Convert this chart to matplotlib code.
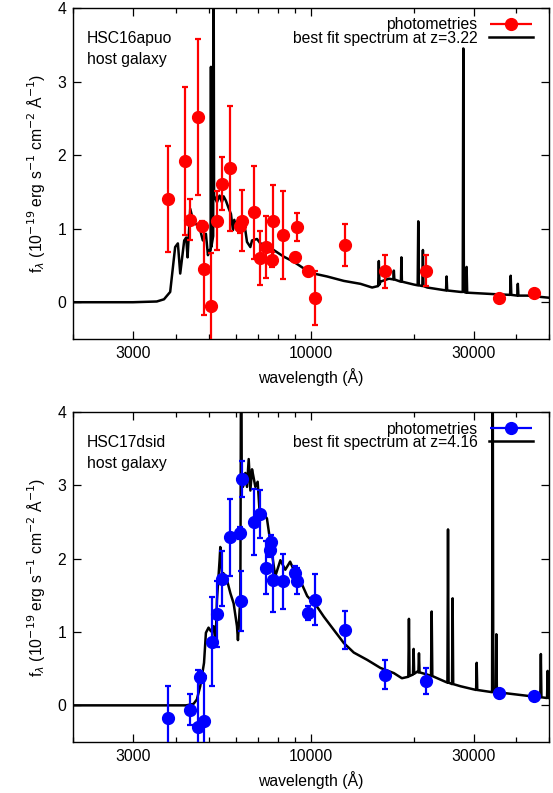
import matplotlib
matplotlib.use('Agg')
import matplotlib.pyplot as plt
from matplotlib.ticker import FixedLocator, NullFormatter, FixedFormatter
from matplotlib.lines import Line2D
from matplotlib.legend_handler import HandlerErrorbar

plt.rcParams['font.family'] = ['Liberation Sans', 'DejaVu Sans']
plt.rcParams['font.size'] = 11.3

# ---- HSC16apuo : photometry ----
phot1_wave = [3797, 4268, 4643, 4417, 4782, 4858, 5092, 5281, 5463, 5778, 6266, 6200,
              6814, 7096, 7390, 7714, 7700, 8274, 8954, 9117, 9778, 10252, 12560,
              16540, 21740, 35740, 45180]
phot1_flux = [1.40, 1.92, 2.52, 1.12, 1.04, 0.45, -0.05, 1.11, 1.61, 1.82, 1.11, 1.04,
              1.22, 0.60, 0.75, 1.10, 0.58, 0.91, 0.62, 1.02, 0.42, 0.06, 0.78,
              0.42, 0.43, 0.06, 0.12]
phot1_err = [0.72, 1.01, 1.06, 0.28, 0.06, 0.62, 0.72, 0.40, 0.36, 0.85, 0.42, 0.10,
             0.63, 0.37, 0.42, 0.50, 0.10, 0.60, 0.05, 0.19, 0.06, 0.37, 0.29,
             0.22, 0.21, 0.02, 0.02]

# ---- HSC16apuo : best fit spectrum (z=3.22) ----
spec1_wave = [2000, 3000, 3524, 3700, 3858, 3990, 4064, 4129, 4242, 4300, 4339, 4418,
              4518, 4622, 4727, 4811, 4912, 4980, 5036, 5070, 5082, 5095, 5160, 5174,
              5190, 5233, 5293, 5388, 5474, 5536, 5624, 5726, 5818, 5898, 5951, 6060,
              6157, 6268, 6412, 6485, 6634, 6709, 6939, 7096, 7424, 7765, 8312, 8892,
              9516, 10182, 11146, 12478, 13970, 15112, 15740, 15810, 15880, 15990,
              16924, 17440, 17500, 17560, 18316, 18360, 18420, 18480, 20050, 20560,
              20640, 20720, 21220, 21300, 21380, 21940, 24900, 25000, 25100, 27500,
              27880, 27990, 28100, 28510, 28620, 28730, 34470, 38400, 38560, 38720,
              40300, 40460, 40620, 43190, 50240]
spec1_flux = [0.0, 0.0, 0.01, 0.04, 0.14, 0.75, 0.80, 0.39, 0.84, 0.88, 0.61, 1.27,
              1.09, 1.05, 0.98, 0.84, 0.93, 0.64, 0.71, 0.70, 3.20, 0.75, 0.90, 5.0,
              1.45, 1.41, 1.36, 1.45, 1.36, 1.44, 1.38, 1.28, 1.20, 0.98, 1.12, 0.98,
              1.12, 1.05, 0.98, 0.82, 0.75, 0.84, 0.86, 0.80, 0.77, 0.71, 0.62, 0.55,
              0.46, 0.39, 0.35, 0.29, 0.25, 0.20, 0.22, 0.56, 0.24, 0.28,
              0.32, 0.31, 0.43, 0.31, 0.28, 0.29, 0.61, 0.28, 0.24, 0.23,
              1.10, 0.23, 0.22, 0.71, 0.22, 0.20, 0.16, 0.35, 0.16, 0.14,
              0.14, 3.45, 0.14, 0.13, 0.48, 0.13, 0.11, 0.10, 0.36, 0.10,
              0.09, 0.25, 0.09, 0.09, 0.06]

# ---- HSC17dsid : photometry ----
phot2_wave = [3797, 4426, 4654, 4728, 4858, 5117, 5293, 5474, 5791, 6238, 6196, 6266,
              6814, 7096, 7390, 7650, 7600, 7714, 8274, 8954, 9117, 9778, 10252,
              12560, 16540, 21740, 35740, 45180]
phot2_flux = [-0.17, -0.06, -0.30, 0.39, -0.22, 0.87, 1.25, 1.73, 2.29, 1.42, 2.35, 3.09,
              2.50, 2.61, 1.88, 2.23, 2.12, 1.71, 1.69, 1.80, 1.70, 1.26, 1.44,
              1.03, 0.42, 0.33, 0.17, 0.13]
phot2_err = [0.43, 0.21, 0.78, 0.08, 0.62, 0.61, 0.45, 0.37, 0.53, 0.41, 0.08, 0.25,
             0.45, 0.33, 0.36, 0.10, 0.10, 0.43, 0.38, 0.10, 0.18, 0.09, 0.35,
             0.26, 0.20, 0.18, 0.03, 0.02]

# ---- HSC17dsid : best fit spectrum (z=4.16) ----
spec2_wave = [2000, 4300, 4518, 4620, 4727, 4850, 4912, 5000, 5082, 5174, 5243, 5293,
              5388, 5414, 5474, 5536, 5664, 5796, 5925, 6060, 6100, 6170, 6200, 6230,
              6260, 6310, 6412, 6485, 6560, 6634, 6709, 6786, 6862, 6970, 7066, 7220,
              7420, 7630, 7850, 8126, 8400, 8680, 8890, 9300, 9745, 10400, 10900,
              11660, 12478, 13350, 14620, 15990, 17500, 18480, 19300, 19380, 19460,
              19920, 20000, 20080, 20500, 20660, 20740, 20820, 21940, 22500, 22600,
              22700, 24560, 25140, 25240, 25340, 25940, 26040, 26140, 27500, 30520,
              30640, 30760, 34000, 34140, 34280, 34860, 34990, 35120, 43190, 47100,
              47280, 47460, 49300, 49500, 49700, 50240]
spec2_flux = [0.0, 0.0, 0.02, 0.08, 0.26, 0.58, 0.99, 1.06, 1.01, 1.08, 0.85, 1.44,
              1.98, 2.16, 1.80, 1.80, 1.71, 1.53, 1.39, 1.08, 0.89, 1.30, 1.40, 5.0,
              3.07, 2.98, 3.17, 2.98, 3.36, 2.93, 3.22, 3.10, 2.98, 3.05, 2.62, 2.62,
              2.55, 2.16, 1.76, 1.98, 1.85, 1.96, 1.85, 1.70, 1.49, 1.35, 1.21,
              1.03, 0.85, 0.72, 0.62, 0.51, 0.44, 0.37, 0.39, 1.18, 0.40,
              0.42, 0.77, 0.43, 0.46, 0.45, 0.71, 0.45, 0.42, 0.40, 1.28,
              0.40, 0.33, 0.31, 2.40, 0.31, 0.29, 1.46, 0.29, 0.26, 0.21,
              0.58, 0.21, 0.18, 5.0, 0.18, 0.18, 0.97, 0.18, 0.13, 0.11,
              0.70, 0.11, 0.10, 0.47, 0.10, 0.10]

panels = [
    (phot1_wave, phot1_flux, phot1_err, spec1_wave, spec1_flux, 'red', '3.22', 'HSC16apuo'),
    (phot2_wave, phot2_flux, phot2_err, spec2_wave, spec2_flux, 'blue', '4.16', 'HSC17dsid'),
]

fig = plt.figure(figsize=(5.53, 7.93), dpi=100)
axes_pos = [[0.132, 0.5725, 0.861, 0.4174], [0.132, 0.0643, 0.861, 0.416]]

for pos, (pw, pf, pe, sw, sf, col, z, name) in zip(axes_pos, panels):
    ax = fig.add_axes(pos)
    ax.plot(sw, sf, color='black', lw=1.8, zorder=2)
    ax.errorbar(pw, pf, yerr=pe, fmt='o', color=col, ms=8.5, elinewidth=1.6,
                capsize=2.5, capthick=1.6, zorder=3)
    # empty horizontal errorbar, only used as the legend sample (gnuplot style)
    h_pts = ax.errorbar([], [], xerr=[], fmt='o', color=col, ms=8.5, elinewidth=1.6,
                        capsize=2.5, capthick=1.6)
    ax.set_xscale('log')
    ax.set_xlim(2000, 50000)
    ax.set_ylim(-0.5, 4)
    ax.xaxis.set_major_locator(FixedLocator([3000, 10000, 30000]))
    ax.xaxis.set_major_formatter(FixedFormatter(['3000', '10000', '30000']))
    ax.xaxis.set_minor_locator(FixedLocator([2000, 4000, 5000, 6000, 7000, 8000, 9000,
                                             20000, 40000, 50000]))
    ax.xaxis.set_minor_formatter(NullFormatter())
    ax.set_yticks([0, 1, 2, 3, 4])
    ax.tick_params(which='both', direction='in', top=True, right=True)
    ax.tick_params(which='major', length=6, width=0.9, pad=5)
    ax.tick_params(which='minor', length=3.5, width=0.9)
    for s in ax.spines.values():
        s.set_linewidth(1.0)
    ax.set_xlabel('wavelength (Å)', labelpad=5)
    ax.set_ylabel(r'f$_\lambda$ (10$^{-19}$ erg s$^{-1}$ cm$^{-2}$ Å$^{-1}$)', labelpad=7)

    ax.text(0.029, 0.909, name, transform=ax.transAxes, va='center', ha='left')
    ax.text(0.029, 0.843, 'host galaxy', transform=ax.transAxes, va='center', ha='left')

    h_spec = Line2D([], [], color='black', lw=1.8)
    ax.legend([h_pts, h_spec],
              ['photometries', 'best fit spectrum at z=' + z],
              handler_map={h_pts: HandlerErrorbar(xerr_size=1.35)},
              loc='upper right', bbox_to_anchor=(0.985, 1.0), frameon=False,
              markerfirst=False, handlelength=2.75, handletextpad=0.75,
              labelspacing=-0.1, borderaxespad=0.2)

fig.savefig('out.png', dpi=100)
